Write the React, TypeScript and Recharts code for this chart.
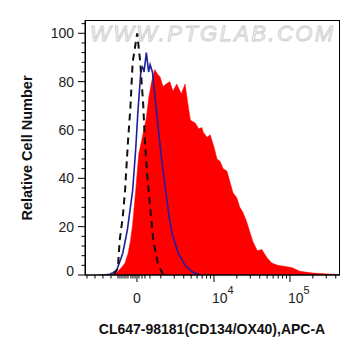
import React from 'react';
import { ComposedChart, Area, Line, XAxis, YAxis } from 'recharts';

// x values are in display units: 0 label sits at 2.987, 10^4 at 4, 10^5 at 5
const stained: [number, number][] = [
    [2.63, 0], [2.66, 0.3], [2.72, 1], [2.78, 3], [2.83, 5], [2.87, 9], [2.9, 14],
    [2.93, 21], [2.97, 35], [3.01, 50], [3.07, 59], [3.11, 65], [3.14, 73], [3.18, 80],
    [3.22, 85], [3.26, 83], [3.29, 82], [3.33, 78], [3.37, 79], [3.42, 80], [3.46, 76],
    [3.51, 79], [3.57, 75], [3.62, 79], [3.66, 70], [3.69, 64], [3.72, 63.5], [3.75, 63],
    [3.8, 60.5], [3.84, 61], [3.86, 59], [3.91, 57], [3.95, 58], [3.97, 56], [4.0, 53],
    [4.04, 48], [4.08, 47], [4.12, 44], [4.17, 43], [4.21, 38.5], [4.25, 34], [4.3, 32],
    [4.34, 28], [4.38, 26], [4.43, 22], [4.47, 18], [4.51, 14], [4.57, 10], [4.63, 10.5],
    [4.7, 7], [4.76, 5], [4.84, 4], [4.96, 3.4], [5.03, 3], [5.13, 1.5], [5.3, 0.8],
    [5.46, 0.5], [5.57, 0.3], [5.66, 0.2],
];

const isotype: [number, number][] = [
    [2.5, 0], [2.57, 0.1], [2.63, 0.3], [2.67, 1], [2.72, 2], [2.8, 9], [2.86, 18.6],
    [2.93, 35], [2.97, 52], [3.0, 68], [3.04, 85], [3.06, 86], [3.08, 84], [3.11, 92],
    [3.14, 84], [3.16, 87], [3.19, 84], [3.22, 75], [3.27, 60], [3.31, 48], [3.36, 36],
    [3.41, 24], [3.45, 17], [3.53, 9], [3.62, 4], [3.72, 1.2], [3.82, 0],
];

const blank: [number, number][] = [
    [2.68, 0], [2.72, 2], [2.74, 5], [2.76, 14.5], [2.8, 24], [2.83, 35], [2.87, 56],
    [2.9, 69], [2.93, 88], [2.97, 96], [2.99, 100], [3.03, 88], [3.07, 70], [3.09, 56],
    [3.12, 42], [3.16, 28], [3.2, 14.5], [3.26, 5], [3.31, 1.4], [3.34, 0],
];

const yTicks = [0, 4, 8, 12, 16, 20, 24, 28, 32, 36, 40, 44, 48, 52, 56, 60, 64, 68, 72, 76, 80, 84, 88, 92, 96, 100, 104];
const xMajorTicks = [2.987, 4, 5];
const xMajorLabels = ['0', '10|4', '10|5'];
const xMinorTicks = [
    2.329, 2.434, 2.539, 2.645, 2.737, 2.763, 2.789, 2.816, 2.842, 2.868, 2.908, 2.934, 2.961,
    3.013, 3.053, 3.092, 3.158, 3.301, 3.477, 3.602, 3.699, 3.778, 3.845, 3.903, 3.954,
    4.301, 4.477, 4.602, 4.699, 4.778, 4.845, 4.903, 4.954, 5.301, 5.477, 5.602,
];

const toRows = (pts: [number, number][]) => pts.map(([x, y]) => ({ x, y }));

const FONT = '"Liberation Sans", Arial, sans-serif';

const YTick = (props: any) => {
    const { x, y, payload } = props;
    const major = payload.value % 20 === 0;
    return (
        <g>
            <line x1={x} x2={x - (major ? 7 : 3.5)} y1={y} y2={y} stroke="#000" />
            {major && (
                <text x={x - 11} y={payload.value === 0 ? y - 4 : y} dy={5} textAnchor="end"
                    fontSize={14} fontFamily={FONT} fill="#222">
                    {payload.value}
                </text>
            )}
        </g>
    );
};

const XTick = (props: any) => {
    const { x, y, payload } = props;
    const idx = xMajorTicks.indexOf(payload.value);
    const major = idx >= 0;
    const [base, sup] = major ? xMajorLabels[idx].split('|') : ['', undefined];
    return (
        <g>
            <line x1={x} x2={x} y1={y} y2={y + (major ? 7 : 3.5)} stroke="#000" />
            {major && !sup && (
                <text x={x} y={y + 28} textAnchor="middle" fontSize={14} fontFamily={FONT} fill="#222">{base}</text>
            )}
            {major && sup && (
                <text x={x - 2} y={y + 28} textAnchor="start" fontSize={14} fontFamily={FONT} fill="#222">
                    {base}
                    <tspan dy={-9} fontSize={11}>{sup}</tspan>
                </text>
            )}
        </g>
    );
};

export default function App() {
    return (
        <div style={{ position: 'absolute', left: 0, top: 0, width: 361, height: 356, background: '#fff' }}>
            {/* Watermark, under the chart */}
            <svg width={361} height={356} style={{ position: 'absolute', left: 0, top: 0 }}>
                <text x={90} y={41} fontSize={22} fontStyle="italic" fontFamily={FONT}
                    fill="#f2f2f2" stroke="#cccccc" strokeWidth={0.8}
                    textLength={243} lengthAdjust="spacing">
                    WWW.PTGLAB.COM
                </text>
            </svg>

            <div style={{ position: 'absolute', left: 0, top: 0 }}>
                <ComposedChart width={361} height={356} margin={{ top: 20, right: 21, bottom: 21, left: 0 }}>
                    <XAxis
                        dataKey="x"
                        type="number"
                        domain={[2.303, 5.658]}
                        allowDataOverflow
                        ticks={[...xMajorTicks, ...xMinorTicks].sort((a, b) => a - b)}
                        interval={0}
                        tick={<XTick />}
                        tickLine={false}
                        tickSize={0}
                        tickMargin={0}
                        height={60}
                        axisLine={{ stroke: '#000' }}
                    />
                    <YAxis
                        type="number"
                        domain={[0, 105.5]}
                        allowDataOverflow
                        ticks={yTicks}
                        interval={0}
                        tick={<YTick />}
                        tickLine={false}
                        tickSize={0}
                        tickMargin={0}
                        width={85}
                        axisLine={{ stroke: '#000' }}
                    />
                    <Area data={toRows(stained)} dataKey="y" type="linear" fill="#ff0000" fillOpacity={1}
                        stroke="#ff0000" strokeWidth={0.5} isAnimationActive={false} dot={false} activeDot={false} />
                    <Line data={toRows(isotype)} dataKey="y" type="linear" stroke="#1f1f9e" strokeWidth={1.6}
                        isAnimationActive={false} dot={false} activeDot={false} />
                    <Line data={toRows(blank)} dataKey="y" type="linear" stroke="#111" strokeWidth={2}
                        strokeDasharray="7 5" isAnimationActive={false} dot={false} activeDot={false} />
                </ComposedChart>
            </div>

            {/* Frame and axis titles */}
            <svg width={361} height={356} style={{ position: 'absolute', left: 0, top: 0, pointerEvents: 'none' }}>
                <rect x={85.5} y={20.5} width={254} height={254.5} fill="none" stroke="#000" />
                <text x={212} y={334} textAnchor="middle" fontSize={14} fontWeight="bold" fontFamily={FONT} fill="#111">
                    CL647-98181(CD134/OX40),APC-A
                </text>
                <text x={32} y={148} textAnchor="middle" fontSize={14.5} fontWeight="bold" fontFamily={FONT} fill="#111"
                    transform="rotate(-90 32 148)">
                    Relative Cell Number
                </text>
            </svg>
        </div>
    );
}
